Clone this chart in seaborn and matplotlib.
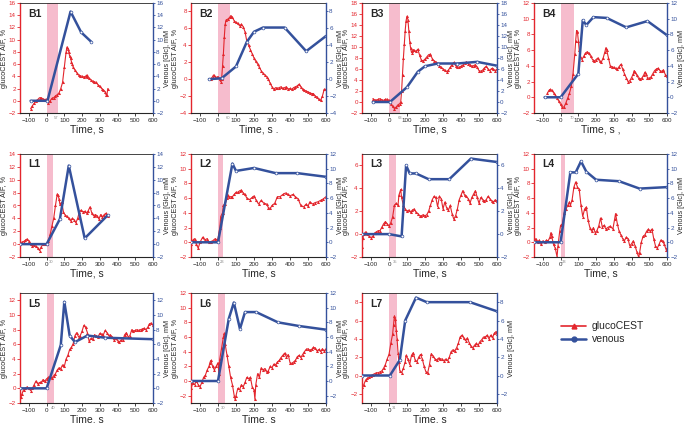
import matplotlib
matplotlib.use("Agg")
import matplotlib.pyplot as plt
import seaborn as sns
from matplotlib.lines import Line2D

sns.set_style("ticks")
plt.rcParams["font.family"] = ["Liberation Sans", "DejaVu Sans"]

RED = "#e3262d"
BLUE = "#34519c"
PINK = "#f6bccd"

# --- dati: (tempo s, valore) ---
b1_glc = [(-90, -1.3), (-80, -0.8), (-70, -0.4), (-60, 0), (-50, 0.2), (-40, 0.5), (-30, 0.5), (-20, 0.3),
          (-10, 0.2), (0, 0.3), (10, -0.3), (20, 0), (30, 0.4), (40, 0.5), (50, 0.8), (60, 1.0), (70, 1.3),
          (80, 2.0), (90, 3.0), (100, 5.5), (110, 8.0), (115, 8.8), (120, 8.5), (125, 8.0), (130, 7.3),
          (135, 7.0), (140, 6.4), (145, 6.0), (150, 5.5), (160, 5.0), (170, 4.6), (180, 4.2), (190, 4.1),
          (200, 4.0), (210, 3.9), (220, 4.0), (225, 4.2), (230, 3.9), (240, 3.7), (250, 3.4), (260, 3.2),
          (270, 3.1), (280, 3.0), (290, 2.6), (300, 2.4), (310, 2.0), (320, 1.8), (330, 1.5), (335, 1.0),
          (340, 0.9), (345, 2.0)]
b1_ven = [(-90, 0), (5, 0), (135, 14.6), (195, 11.2), (250, 9.7)]

b2_glc = [(-40, 0), (-30, 0.3), (-25, 0.5), (-15, 0.3), (-5, 0.2), (0, 0.3), (10, 0), (15, -0.3), (20, 0),
          (25, 1.5), (30, 3), (35, 5), (40, 6.5), (45, 7), (55, 7.1), (65, 7.3), (70, 7.5), (80, 7.3),
          (90, 6.9), (100, 6.7), (110, 6.6), (120, 6.3), (130, 6.5), (140, 6.2), (150, 5.6), (160, 4.5),
          (170, 4.0), (180, 3.5), (190, 3.0), (200, 2.5), (210, 2.1), (220, 1.8), (230, 1.4), (240, 1.0),
          (250, 0.7), (260, 0.5), (270, 0.3), (280, 0), (290, -0.5), (300, -0.9), (310, -1.2), (320, -1.0),
          (330, -1.1), (340, -1.0), (350, -0.9), (360, -1.1), (370, -1.0), (380, -0.9), (390, -1.2),
          (400, -1.1), (410, -1.2), (420, -1.0), (430, -0.9), (440, -0.8), (450, -0.6), (460, -0.9),
          (470, -1.2), (480, -1.3), (490, -1.4), (500, -1.5), (510, -1.6), (520, -1.7), (530, -1.7),
          (540, -2.0), (550, -2.1), (560, -2.4), (570, -2.5), (580, -2.0), (590, -1.2), (600, -1.2)]
b2_ven = [(-50, 0), (20, 0.1), (100, 1.5), (160, 4.4), (200, 5.6), (250, 6.1), (370, 6.1), (490, 3.3), (600, 5.1)]

b3_glc = [(-90, 0.6), (-80, 0.4), (-70, 0.3), (-60, 0.5), (-50, 0.6), (-40, 0.4), (-30, 0.3), (-20, 0.5),
          (-10, 0.5), (0, 0.3), (10, -0.3), (20, -0.8), (30, -1.2), (40, -0.9), (50, -0.5), (60, -0.3),
          (65, 0), (70, 2), (75, 5), (80, 8), (85, 10.5), (90, 13), (95, 14.8), (100, 15.6), (105, 15),
          (110, 13), (115, 11), (120, 9.8), (125, 9), (130, 9.2), (135, 9.5), (140, 9.4), (150, 9.2),
          (160, 9.6), (170, 8.5), (180, 7.6), (190, 7.5), (200, 7.8), (210, 8.2), (220, 8.6), (230, 8.7),
          (240, 7.9), (250, 7.5), (260, 7.3), (270, 7.0), (280, 6.6), (290, 6.3), (300, 6.0), (310, 5.8),
          (320, 5.5), (330, 5.8), (340, 6.3), (350, 6.8), (360, 7.2), (370, 6.6), (380, 6.4), (390, 6.3),
          (400, 6.5), (410, 6.7), (420, 7.1), (430, 7.3), (440, 7.0), (450, 6.8), (460, 6.5), (470, 6.6),
          (480, 6.8), (490, 6.3), (500, 5.7), (510, 5.6), (520, 5.8), (530, 6.2), (540, 6.5), (550, 6.0),
          (560, 5.7), (570, 6.1), (580, 6.0), (590, 5.7), (600, 6.0)]
b3_ven = [(-90, 0), (5, 0), (100, 2.7), (160, 5.5), (200, 6.5), (270, 7.0), (380, 7.0), (490, 7.3), (600, 6.6)]

b4_glc = [(-75, 0.5), (-65, 0.9), (-60, 1.0), (-50, 0.9), (-40, 0.6), (-30, 0.3), (-20, -0.1), (-10, -0.5),
          (0, -0.9), (10, -1.3), (20, -1.2), (30, -0.7), (40, -0.1), (50, 0.5), (60, 1.4), (70, 3.0),
          (80, 5.5), (85, 7.2), (90, 8.5), (95, 8.3), (100, 7.2), (105, 6.0), (110, 5.2), (120, 4.8),
          (130, 5.2), (140, 5.6), (150, 5.8), (160, 5.6), (170, 5.2), (180, 4.8), (190, 4.6), (200, 4.8),
          (210, 5.0), (220, 4.6), (230, 4.5), (240, 5.0), (250, 5.8), (255, 6.3), (260, 6.0), (270, 5.0),
          (280, 4.0), (290, 3.9), (300, 3.8), (310, 3.7), (320, 3.6), (330, 3.9), (340, 4.2), (350, 3.6),
          (360, 3.0), (370, 2.5), (380, 2.0), (390, 2.1), (400, 2.5), (410, 3.0), (415, 3.4), (420, 3.2),
          (430, 2.8), (440, 2.4), (450, 2.3), (460, 2.5), (470, 2.9), (475, 3.2), (480, 3.0), (490, 2.5),
          (500, 2.4), (510, 2.6), (520, 3.0), (530, 3.4), (540, 3.6), (550, 3.7), (560, 3.4), (570, 3.3),
          (580, 3.5), (590, 2.9), (600, 2.7)]
b4_ven = [(-90, 0), (0, 0), (100, 3.0), (125, 9.8), (145, 9.2), (185, 10.2), (260, 10.1), (370, 8.9),
          (490, 9.7), (600, 7.9)]

l1_glc = [(-150, 0.2), (-140, 0.3), (-130, 0.4), (-120, 0.6), (-110, 0.8), (-100, 0.5), (-90, 0), (-80, -0.3),
          (-70, -0.2), (-60, -0.3), (-50, -0.6), (-40, -1.0), (-30, -0.4), (-20, 0), (-10, 0), (0, 0),
          (10, 0.5), (20, 1.5), (30, 2.8), (40, 4.0), (50, 6.0), (60, 7.8), (65, 7.6), (70, 7.0), (75, 6.2),
          (85, 6.5), (95, 5.0), (105, 4.5), (115, 4.3), (125, 4.0), (135, 3.6), (145, 4.0), (155, 3.8),
          (165, 3.3), (175, 4.0), (185, 5.0), (195, 5.3), (205, 5.0), (215, 5.1), (225, 4.8), (235, 5.2),
          (245, 5.8), (255, 4.8), (265, 4.4), (275, 4.6), (285, 4.4), (295, 3.9), (305, 4.6), (315, 4.2),
          (325, 4.6), (335, 4.8), (345, 4.4)]
l1_ven = [(-150, 0), (0, 0), (75, 3.9), (125, 12.2), (215, 0.9), (345, 4.5)]

l2_glc = [(-150, -0.3), (-140, 0.3), (-130, 0.5), (-120, -0.3), (-110, -0.8), (-100, 0), (-85, 0.7), (-75, 0.3),
          (-60, 0.5), (-50, 0), (-40, 0.1), (-30, 0.2), (-15, 0.5), (-5, 0.3), (0, 0.5), (10, 2.0), (15, 3.5),
          (25, 4.0), (30, 5.0), (40, 5.2), (50, 6.0), (55, 6.4), (60, 6.1), (70, 6.2), (80, 6.2), (90, 6.5),
          (100, 6.8), (110, 6.8), (120, 7.0), (130, 7.1), (140, 6.7), (150, 6.5), (160, 6.0), (175, 5.8),
          (190, 6.1), (200, 6.3), (210, 5.8), (225, 5.2), (240, 5.7), (255, 5.3), (270, 5.2), (280, 4.7),
          (290, 4.6), (300, 5.0), (315, 5.3), (330, 6.2), (345, 6.2), (360, 6.5), (375, 6.7), (390, 6.5),
          (400, 6.3), (415, 6.5), (430, 6.2), (445, 5.9), (460, 5.0), (475, 4.8), (490, 5.2), (500, 4.9),
          (510, 5.5), (525, 5.2), (540, 5.4), (555, 5.5), (570, 5.7), (585, 5.9), (600, 6.2)]
l2_ven = [(-150, 0), (0, 0), (80, 10.7), (100, 9.7), (200, 10.1), (320, 9.4), (440, 9.4), (600, 8.9)]

l3_glc = [(-150, -1.1), (-145, -0.3), (-140, 0), (-130, 0.2), (-120, 0), (-110, -0.2), (-100, -0.3),
          (-90, -0.2), (-80, 0.1), (-70, 0.2), (-60, 0.3), (-50, 0.3), (-40, 0.6), (-30, 0.9), (-20, 1.1),
          (-10, 0.9), (0, 0.7), (10, 1.0), (20, 1.5), (30, 2.5), (40, 2.7), (50, 2.5), (55, 3.4), (65, 3.9),
          (70, 3.2), (80, 2.5), (90, 2.2), (100, 2.0), (110, 2.1), (120, 1.9), (130, 2.1), (140, 2.2),
          (150, 1.9), (160, 1.8), (170, 1.6), (180, 1.6), (190, 1.7), (200, 1.6), (210, 1.7), (220, 2.0),
          (230, 2.5), (240, 3.0), (250, 3.3), (260, 3.2), (270, 2.4), (280, 3.3), (290, 3.1), (300, 2.2),
          (310, 2.8), (320, 2.3), (330, 2.1), (340, 2.5), (350, 1.8), (360, 1.3), (370, 1.6), (380, 2.2),
          (390, 3.0), (400, 3.4), (410, 3.8), (420, 3.4), (430, 3.3), (440, 3.1), (450, 2.7), (460, 3.2),
          (470, 3.5), (480, 3.8), (490, 3.2), (500, 2.7), (510, 3.2), (520, 3.0), (530, 2.9), (540, 3.0),
          (550, 3.3), (560, 3.1), (570, 2.9), (580, 2.8), (590, 3.0), (600, 2.9)]
l3_ven = [(-150, 0), (0, 0), (70, -0.2), (95, 6.0), (115, 5.3), (150, 5.3), (220, 4.8), (335, 4.8),
          (455, 6.6), (600, 6.3)]

l4_glc = [(-150, 0), (-140, 0.5), (-130, 0), (-120, 0.3), (-110, -0.3), (-100, 0.2), (-90, 0), (-80, 0.3),
          (-70, 0.2), (-60, 0.7), (-55, 1.3), (-50, 0.8), (-40, -0.3), (-30, -0.8), (-20, -2.0), (-15, -0.5),
          (-5, 1.5), (0, 2.3), (10, 2.5), (20, 4.0), (30, 4.5), (40, 5.0), (50, 5.5), (55, 5.0), (65, 5.8),
          (75, 7.5), (85, 8.2), (95, 7.5), (105, 7.2), (115, 5.0), (125, 3.5), (135, 4.5), (145, 4.8),
          (155, 3.0), (165, 2.0), (175, 1.5), (185, 2.0), (195, 1.3), (205, 1.6), (215, 2.2), (225, 3.3),
          (235, 2.1), (245, 2.3), (255, 1.8), (265, 2.0), (280, 2.2), (295, 1.8), (305, 3.2), (310, 3.9),
          (320, 2.5), (330, 1.5), (340, 1.0), (350, 0.5), (360, 0.2), (370, 0.7), (380, 0.5), (390, -0.5),
          (400, -0.2), (410, 0.2), (420, -0.5), (430, -1.3), (440, -2.0), (445, -1.5), (455, 0), (465, 0.8),
          (475, 1.0), (485, 1.5), (495, 1.8), (505, 1.5), (515, 1.8), (525, 0.5), (535, -0.5), (545, -0.8),
          (555, -0.3), (565, 0.3), (575, 0.2), (585, -0.3), (595, -1.0), (600, -0.8)]
l4_ven = [(-150, 0), (0, 0), (55, 9.5), (85, 9.5), (115, 11.0), (145, 9.6), (200, 8.5), (330, 8.3),
          (445, 7.3), (600, 7.5)]

l5_glc = [(-150, -2.0), (-145, -1.2), (-140, -0.8), (-130, -0.2), (-120, 0), (-110, 0.2), (-100, 0),
          (-90, -0.3), (-80, 0), (-70, 0.5), (-60, 1.0), (-50, 0.6), (-40, 0.8), (-30, 0.8), (-20, 1.2),
          (-10, 1.0), (0, 1.3), (10, 1.5), (20, 1.6), (30, 1.4), (40, 1.7), (50, 2.0), (60, 2.5), (70, 2.8),
          (80, 2.7), (90, 3.2), (100, 3.0), (110, 4.0), (120, 4.5), (130, 5.3), (140, 5.6), (150, 6.1),
          (160, 7.2), (170, 7.6), (180, 7.0), (190, 7.2), (200, 7.8), (210, 8.6), (220, 8.3), (230, 7.6),
          (240, 6.4), (250, 6.8), (260, 6.7), (270, 7.3), (280, 7.2), (290, 7.0), (300, 7.5), (310, 7.4),
          (320, 7.3), (330, 7.9), (340, 7.6), (350, 7.2), (360, 7.3), (370, 7.0), (380, 6.6), (390, 6.8),
          (400, 6.5), (410, 6.3), (420, 6.6), (430, 6.6), (440, 7.3), (450, 7.6), (460, 7.0), (470, 7.2),
          (480, 8.0), (490, 7.8), (500, 7.9), (510, 8.0), (520, 7.9), (530, 8.0), (540, 8.1), (550, 8.2),
          (560, 8.0), (570, 8.3), (580, 8.8), (590, 8.9), (600, 8.6)]
l5_ven = [(-150, 0), (0, 0), (80, 5.9), (100, 11.8), (130, 7.2), (160, 6.3), (230, 7.2), (330, 6.9), (600, 6.7)]

l6_glc = [(-150, -1.0), (-140, -0.3), (-130, -0.5), (-120, 0), (-110, -0.5), (-100, -0.8), (-90, -0.2),
          (-80, 0.5), (-70, 0.8), (-60, 1.5), (-50, 2.0), (-45, 2.5), (-40, 2.8), (-30, 2.0), (-20, 1.5),
          (-10, 2.0), (0, 2.5), (5, 1.0), (10, 3.0), (20, 4.5), (30, 6.0), (35, 6.5), (40, 5.0), (50, 3.5),
          (60, 2.0), (70, 0.5), (80, -0.5), (90, -2.0), (95, -2.5), (100, -2.0), (110, -1.0), (120, -1.2),
          (130, -0.5), (140, -0.8), (150, -0.2), (160, 0.5), (170, 0.3), (180, 0.5), (190, -0.8), (200, -1.2),
          (205, -2.5), (210, -0.5), (220, 1.0), (230, 0.5), (240, 1.8), (250, 1.5), (260, 1.7), (270, 1.2),
          (280, 1.4), (290, 2.0), (300, 1.8), (310, 2.3), (320, 2.2), (330, 2.6), (340, 2.8), (350, 3.2),
          (360, 3.5), (370, 3.8), (380, 3.3), (390, 3.6), (400, 2.5), (410, 2.4), (420, 2.6), (430, 2.8),
          (440, 3.3), (450, 3.5), (460, 3.2), (470, 3.6), (480, 4.0), (490, 4.3), (500, 4.4), (510, 4.2),
          (520, 4.3), (530, 4.6), (540, 4.5), (550, 4.1), (560, 4.3), (570, 4.0), (580, 4.4), (590, 4.1),
          (600, 4.4)]
l6_ven = [(-150, 0), (0, 0), (60, 8.5), (88, 10.7), (122, 7.1), (150, 9.4), (212, 9.4), (333, 8.0),
          (450, 7.5), (600, 7.0)]

l7_glc = [(-150, -1.3), (-140, -1.0), (-130, -0.5), (-120, -0.3), (-110, -0.2), (-100, 0), (-90, 0.1),
          (-80, 0.2), (-70, 0.3), (-60, 0.3), (-50, 0.4), (-40, 0.5), (-30, 0.8), (-20, 1.2), (-10, 1.8),
          (0, 2.3), (10, 3.5), (20, 4.5), (25, 5.5), (30, 6.5), (35, 6.2), (40, 5.0), (45, 4.0), (50, 2.5),
          (55, 1.5), (60, 0.5), (70, 0.3), (80, 0.8), (90, 1.5), (95, 2.2), (105, 1.8), (115, 1.2), (125, 2.2),
          (135, 2.5), (145, 1.7), (155, 1.5), (165, 2.0), (175, 2.3), (185, 1.8), (195, 1.0), (205, 0.4),
          (215, 0.3), (225, 1.2), (235, 2.4), (245, 2.1), (255, 1.8), (265, 1.7), (275, 1.9), (285, 1.8),
          (295, 1.8), (305, 1.6), (315, 1.8), (325, 1.6), (335, 2.0), (345, 2.6), (355, 2.8), (365, 2.7),
          (375, 3.0), (385, 3.5), (395, 4.2), (405, 4.4), (415, 4.1), (425, 3.8), (435, 4.1), (445, 3.6),
          (455, 3.2), (465, 3.0), (475, 3.3), (485, 3.5), (495, 3.3), (505, 3.7), (515, 3.9), (525, 4.2),
          (535, 4.2), (545, 4.4), (555, 4.0), (565, 4.4), (575, 4.1), (585, 4.6), (595, 4.8), (600, 4.5)]
l7_ven = [(-150, 0), (5, 0), (60, 1.7), (90, 6.0), (150, 8.5), (210, 8.0), (450, 8.0), (600, 7.0)]

panel_names = ["B1", "B2", "B3", "B4", "L1", "L2", "L3", "L4", "L5", "L6", "L7"]
glc_series = [b1_glc, b2_glc, b3_glc, b4_glc, l1_glc, l2_glc, l3_glc, l4_glc, l5_glc, l6_glc, l7_glc]
ven_series = [b1_ven, b2_ven, b3_ven, b4_ven, l1_ven, l2_ven, l3_ven, l4_ven, l5_ven, l6_ven, l7_ven]
y_limits = [(-2, 16), (-4, 9), (-2, 18), (-2, 12), (-2, 14), (-2, 12), (-2, 7), (-2, 12), (-2, 13), (-3, 12), (-3, 9)]
y_top_tick = [16, 8, 18, 12, 14, 12, 6, 12, 12, 12, 8]
shade_end = [65, 64, 60, 73, 36, 28, 39, 25, 40, 37, 43]
infusion_label = [57, 60, 63, 70, 30, 23, 35, 23, 40, 30, 31]
x_labels = ["Time, s", "Time, s .", "Time, s", "Time, s ,", "Time, s", "Time, s", "Time, s", "Time, s",
            "Time, s", "Time, s", "Time, s"]

W, H = 687, 423
cols = [(20, 153), (191, 326), (362, 497), (534, 667)]
rows = [(3, 113), (154, 257), (293, 403)]


def box(l, t, r, b):
    return [l / W, 1 - b / H, (r - l) / W, (b - t) / H]


def draw_panel(fig, pos, k):
    ax = fig.add_axes(pos)
    ax2 = ax.twinx()
    gt, gv = zip(*glc_series[k])
    vt, vv = zip(*ven_series[k])

    ax.axvspan(0, shade_end[k], color=PINK, lw=0, zorder=0)
    sns.lineplot(x=list(gt), y=list(gv), ax=ax, color=RED, lw=0.8, marker="^", markersize=2.2,
                 markeredgewidth=0, estimator=None, sort=False)
    sns.lineplot(x=list(vt), y=list(vv), ax=ax2, color=BLUE, lw=1.8, marker="o", markersize=2,
                 markerfacecolor="white", markeredgecolor=BLUE, markeredgewidth=0.5,
                 estimator=None, sort=False)

    lo, hi = y_limits[k]
    ticks = [t for t in range(-4, y_top_tick[k] + 1, 2) if t >= lo]
    for a in (ax, ax2):
        a.set_xlim(-150, 600)
        a.set_ylim(lo, hi)
        a.set_yticks(ticks)
    ax.set_xticks(range(-100, 601, 100))

    # assi colorati come nell'originale
    ax.spines["left"].set_color(RED)
    ax.spines["left"].set_linewidth(1.0)
    ax.spines["right"].set_visible(False)
    ax2.spines["right"].set_color(BLUE)
    ax2.spines["right"].set_linewidth(1.0)
    for s in ("left", "top", "bottom"):
        ax2.spines[s].set_visible(False)
    ax.spines["top"].set_linewidth(0.6)
    ax.spines["bottom"].set_linewidth(0.8)

    ax.tick_params(axis="y", colors=RED, labelsize=4.5, length=2, width=0.6, pad=1)
    ax2.tick_params(axis="y", colors=BLUE, labelsize=4.5, length=1.5, width=0.6, pad=0.8)
    ax.tick_params(axis="x", labelsize=4.5, length=2, width=0.6, pad=1.5)

    ax.set_ylabel("glucoCEST AIF, %", fontsize=5.2, labelpad=0.5)
    ax2.set_ylabel("Venous [Glc], mM", fontsize=5.2, labelpad=0.8)
    ax.set_xlabel(x_labels[k], fontsize=7.5, labelpad=1)

    ax.text(0.06, 0.9, panel_names[k], transform=ax.transAxes, fontsize=7.5,
            fontweight="bold", va="center", ha="left")
    ax.text(infusion_label[k] - 3, -0.03, str(infusion_label[k]), transform=ax.get_xaxis_transform(),
            fontsize=3.0, color="#888888", ha="center", va="top")


fig = plt.figure(figsize=(6.87, 4.23), dpi=100)

k = 0
for r, (top, bot) in enumerate(rows):
    for c, (left, right) in enumerate(cols):
        if k >= len(panel_names):
            break
        draw_panel(fig, box(left, top, right, bot), k)
        k += 1

handles = [Line2D([], [], color=RED, lw=1.2, marker="^", markersize=3.5),
           Line2D([], [], color=BLUE, lw=1.8, marker="o", markersize=3.5)]
fig.legend(handles, ["glucoCEST", "venous"], loc="upper left",
           bbox_to_anchor=(552 / W, 1 - 312 / H), frameon=False, fontsize=7.5,
           handlelength=2.4, handletextpad=0.5, labelspacing=0.3)

fig.savefig("out.png", dpi=100)
